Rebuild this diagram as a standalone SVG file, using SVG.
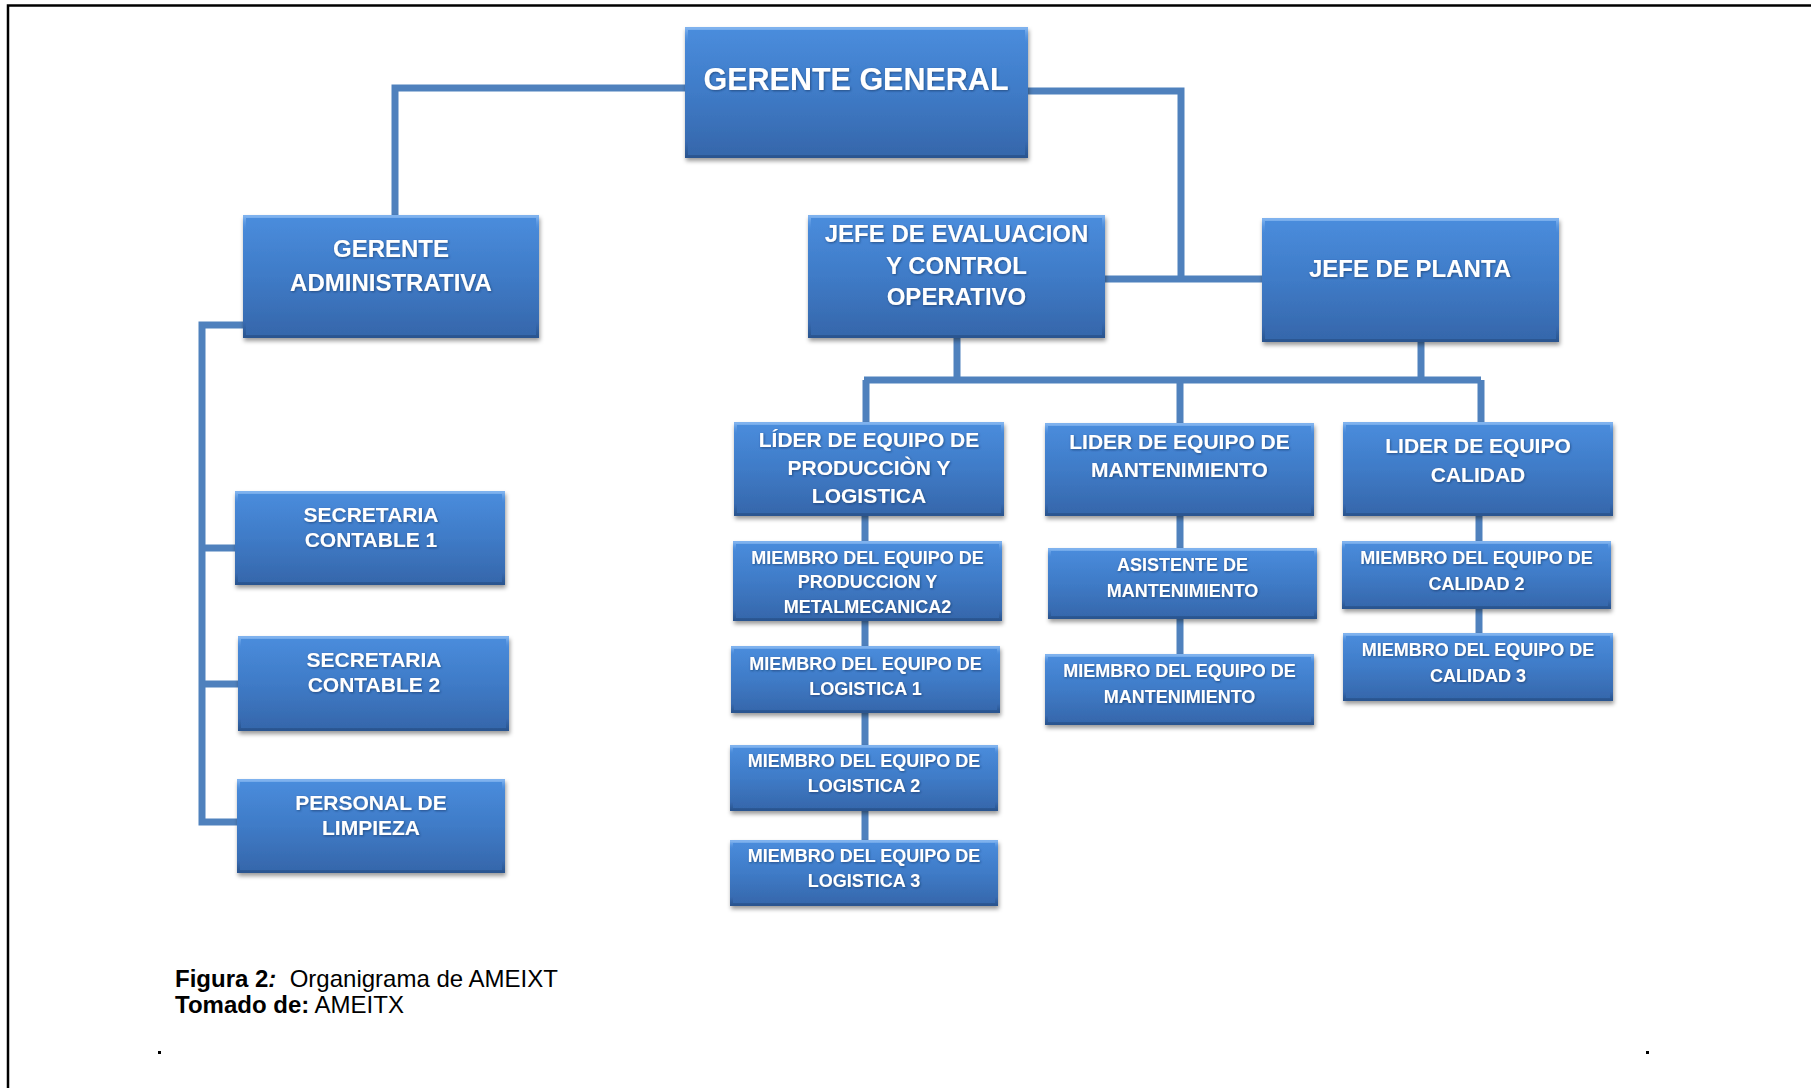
<svg xmlns="http://www.w3.org/2000/svg" width="1811" height="1088" viewBox="0 0 1811 1088">
<defs>
<linearGradient id="fillG" x1="0" y1="0" x2="0" y2="1">
<stop offset="0" stop-color="#4a8ddd"/>
<stop offset="0.5" stop-color="#3f7bc7"/>
<stop offset="1" stop-color="#3566aa"/>
</linearGradient>
<linearGradient id="bevelG" x1="0" y1="0" x2="0" y2="1">
<stop offset="0" stop-color="#7fb2ee"/>
<stop offset="0.12" stop-color="#4a8ddd" stop-opacity="0"/>
<stop offset="0.88" stop-color="#2c5a98" stop-opacity="0"/>
<stop offset="1" stop-color="#2a5590"/>
</linearGradient>
<filter id="shadow" x="-5%" y="-10%" width="110%" height="130%">
<feDropShadow dx="1" dy="3" stdDeviation="2" flood-color="#000" flood-opacity="0.4"/>
</filter>
<filter id="tshadow" x="-5%" y="-20%" width="110%" height="150%">
<feDropShadow dx="0.8" dy="1" stdDeviation="0.8" flood-color="#0a2a55" flood-opacity="0.6"/>
</filter>
</defs>
<style>
.box{fill:url(#fillG);filter:url(#shadow);}
.bev{fill:none;stroke:url(#bevelG);stroke-width:3;}
.t{fill:#ffffff;font-family:"Liberation Sans",Arial,sans-serif;font-weight:bold;text-anchor:middle;filter:url(#tshadow);}
.t31{font-size:30.5px;}
.t24{font-size:24px;}
.t21{font-size:21px;}
.t18{font-size:18px;}
.con{fill:none;stroke:#4f81bd;stroke-width:7;stroke-linecap:butt;stroke-linejoin:miter;}
.cap{font-family:"Liberation Sans",Arial,sans-serif;font-size:24px;fill:#000;}
</style>
<rect x="0" y="0" width="1811" height="1088" fill="#ffffff"/>
<path d="M8 1088 V5.5 H1811" fill="none" stroke="#000" stroke-width="2.5"/>

<g id="connectors">
<path class="con" d="M685 88 H395 V215"/>
<path class="con" d="M1028 91 H1181 V279"/>
<path class="con" d="M1105 279 H1262"/>
<path class="con" d="M957 338 V380"/>
<path class="con" d="M1421 342 V380"/>
<path class="con" d="M864 380 H1481"/>
<path class="con" d="M866 380 V422"/>
<path class="con" d="M1180 380 V423"/>
<path class="con" d="M1481 380 V422"/>
<path class="con" d="M243 325 H202 V822 H237"/>
<path class="con" d="M202 548 H235"/>
<path class="con" d="M202 684 H238"/>
<path class="con" d="M865 516 V840"/>
<path class="con" d="M1180 516 V654"/>
<path class="con" d="M1479 516 V633"/>
</g>

<g id="gerente-general">
<rect class="box" x="685" y="27" width="343" height="131"/>
<rect class="bev" x="686.5" y="28.5" width="340" height="128"/>
<text class="t t31" x="856" y="90">GERENTE GENERAL</text>
</g>

<g id="gerente-administrativa">
<rect class="box" x="243" y="215" width="296" height="123"/>
<rect class="bev" x="244.5" y="216.5" width="293" height="120"/>
<text class="t t24" x="391" y="257">GERENTE</text>
<text class="t t24" x="391" y="291">ADMINISTRATIVA</text>
</g>

<g id="jefe-evaluacion">
<rect class="box" x="808" y="215" width="297" height="123"/>
<rect class="bev" x="809.5" y="216.5" width="294" height="120"/>
<text class="t t24" x="956.5" y="242">JEFE DE EVALUACION</text>
<text class="t t24" x="956.5" y="274">Y CONTROL</text>
<text class="t t24" x="956.5" y="305">OPERATIVO</text>
</g>

<g id="jefe-planta">
<rect class="box" x="1262" y="218" width="297" height="124"/>
<rect class="bev" x="1263.5" y="219.5" width="294" height="121"/>
<text class="t t24" x="1410" y="277">JEFE DE PLANTA</text>
</g>

<g id="secretaria-1">
<rect class="box" x="235" y="491" width="270" height="94"/>
<rect class="bev" x="236.5" y="492.5" width="267" height="91"/>
<text class="t t21" x="371" y="522">SECRETARIA</text>
<text class="t t21" x="371" y="547">CONTABLE 1</text>
</g>

<g id="secretaria-2">
<rect class="box" x="238" y="636" width="271" height="95"/>
<rect class="bev" x="239.5" y="637.5" width="268" height="92"/>
<text class="t t21" x="374" y="667">SECRETARIA</text>
<text class="t t21" x="374" y="692">CONTABLE 2</text>
</g>

<g id="personal-limpieza">
<rect class="box" x="237" y="779" width="268" height="94"/>
<rect class="bev" x="238.5" y="780.5" width="265" height="91"/>
<text class="t t21" x="371" y="810">PERSONAL DE</text>
<text class="t t21" x="371" y="835">LIMPIEZA</text>
</g>

<g id="lider-produccion">
<rect class="box" x="734" y="422" width="270" height="94"/>
<rect class="bev" x="735.5" y="423.5" width="267" height="91"/>
<text class="t t21" x="869" y="447">LÍDER DE EQUIPO DE</text>
<text class="t t21" x="869" y="475">PRODUCCIÒN Y</text>
<text class="t t21" x="869" y="503">LOGISTICA</text>
</g>

<g id="lider-mantenimiento">
<rect class="box" x="1045" y="423" width="269" height="93"/>
<rect class="bev" x="1046.5" y="424.5" width="266" height="90"/>
<text class="t t21" x="1179.5" y="449">LIDER DE EQUIPO DE</text>
<text class="t t21" x="1179.5" y="477">MANTENIMIENTO</text>
</g>

<g id="lider-calidad">
<rect class="box" x="1343" y="422" width="270" height="94"/>
<rect class="bev" x="1344.5" y="423.5" width="267" height="91"/>
<text class="t t21" x="1478" y="453">LIDER DE EQUIPO</text>
<text class="t t21" x="1478" y="482">CALIDAD</text>
</g>

<g id="miembro-produccion">
<rect class="box" x="733" y="541" width="269" height="80"/>
<rect class="bev" x="734.5" y="542.5" width="266" height="77"/>
<text class="t t18" x="867.5" y="564">MIEMBRO DEL EQUIPO DE</text>
<text class="t t18" x="867.5" y="588">PRODUCCION Y</text>
<text class="t t18" x="867.5" y="613">METALMECANICA2</text>
</g>

<g id="miembro-logistica-1">
<rect class="box" x="731" y="646" width="269" height="67"/>
<rect class="bev" x="732.5" y="647.5" width="266" height="64"/>
<text class="t t18" x="865.5" y="670">MIEMBRO DEL EQUIPO DE</text>
<text class="t t18" x="865.5" y="695">LOGISTICA 1</text>
</g>

<g id="miembro-logistica-2">
<rect class="box" x="730" y="745" width="268" height="66"/>
<rect class="bev" x="731.5" y="746.5" width="265" height="63"/>
<text class="t t18" x="864" y="767">MIEMBRO DEL EQUIPO DE</text>
<text class="t t18" x="864" y="792">LOGISTICA 2</text>
</g>

<g id="miembro-logistica-3">
<rect class="box" x="730" y="840" width="268" height="66"/>
<rect class="bev" x="731.5" y="841.5" width="265" height="63"/>
<text class="t t18" x="864" y="862">MIEMBRO DEL EQUIPO DE</text>
<text class="t t18" x="864" y="887">LOGISTICA 3</text>
</g>

<g id="asistente-mantenimiento">
<rect class="box" x="1048" y="548" width="269" height="71"/>
<rect class="bev" x="1049.5" y="549.5" width="266" height="68"/>
<text class="t t18" x="1182.5" y="571">ASISTENTE DE</text>
<text class="t t18" x="1182.5" y="597">MANTENIMIENTO</text>
</g>

<g id="miembro-mantenimiento">
<rect class="box" x="1045" y="654" width="269" height="71"/>
<rect class="bev" x="1046.5" y="655.5" width="266" height="68"/>
<text class="t t18" x="1179.5" y="677">MIEMBRO DEL EQUIPO DE</text>
<text class="t t18" x="1179.5" y="703">MANTENIMIENTO</text>
</g>

<g id="miembro-calidad-2">
<rect class="box" x="1342" y="541" width="269" height="68"/>
<rect class="bev" x="1343.5" y="542.5" width="266" height="65"/>
<text class="t t18" x="1476.5" y="564">MIEMBRO DEL EQUIPO DE</text>
<text class="t t18" x="1476.5" y="590">CALIDAD 2</text>
</g>

<g id="miembro-calidad-3">
<rect class="box" x="1343" y="633" width="270" height="68"/>
<rect class="bev" x="1344.5" y="634.5" width="267" height="65"/>
<text class="t t18" x="1478" y="656">MIEMBRO DEL EQUIPO DE</text>
<text class="t t18" x="1478" y="682">CALIDAD 3</text>
</g>

<g id="caption">
<text class="cap" x="175" y="987"><tspan font-weight="bold">Figura 2</tspan><tspan font-weight="bold" font-style="italic">:</tspan>&#160; Organigrama de AMEIXT</text>
<text class="cap" x="175" y="1013"><tspan font-weight="bold">Tomado de:</tspan> AMEITX</text>
<rect x="158" y="1051" width="3" height="3" fill="#000"/>
<rect x="1646" y="1051" width="3" height="3" fill="#000"/>
</g>
</svg>
